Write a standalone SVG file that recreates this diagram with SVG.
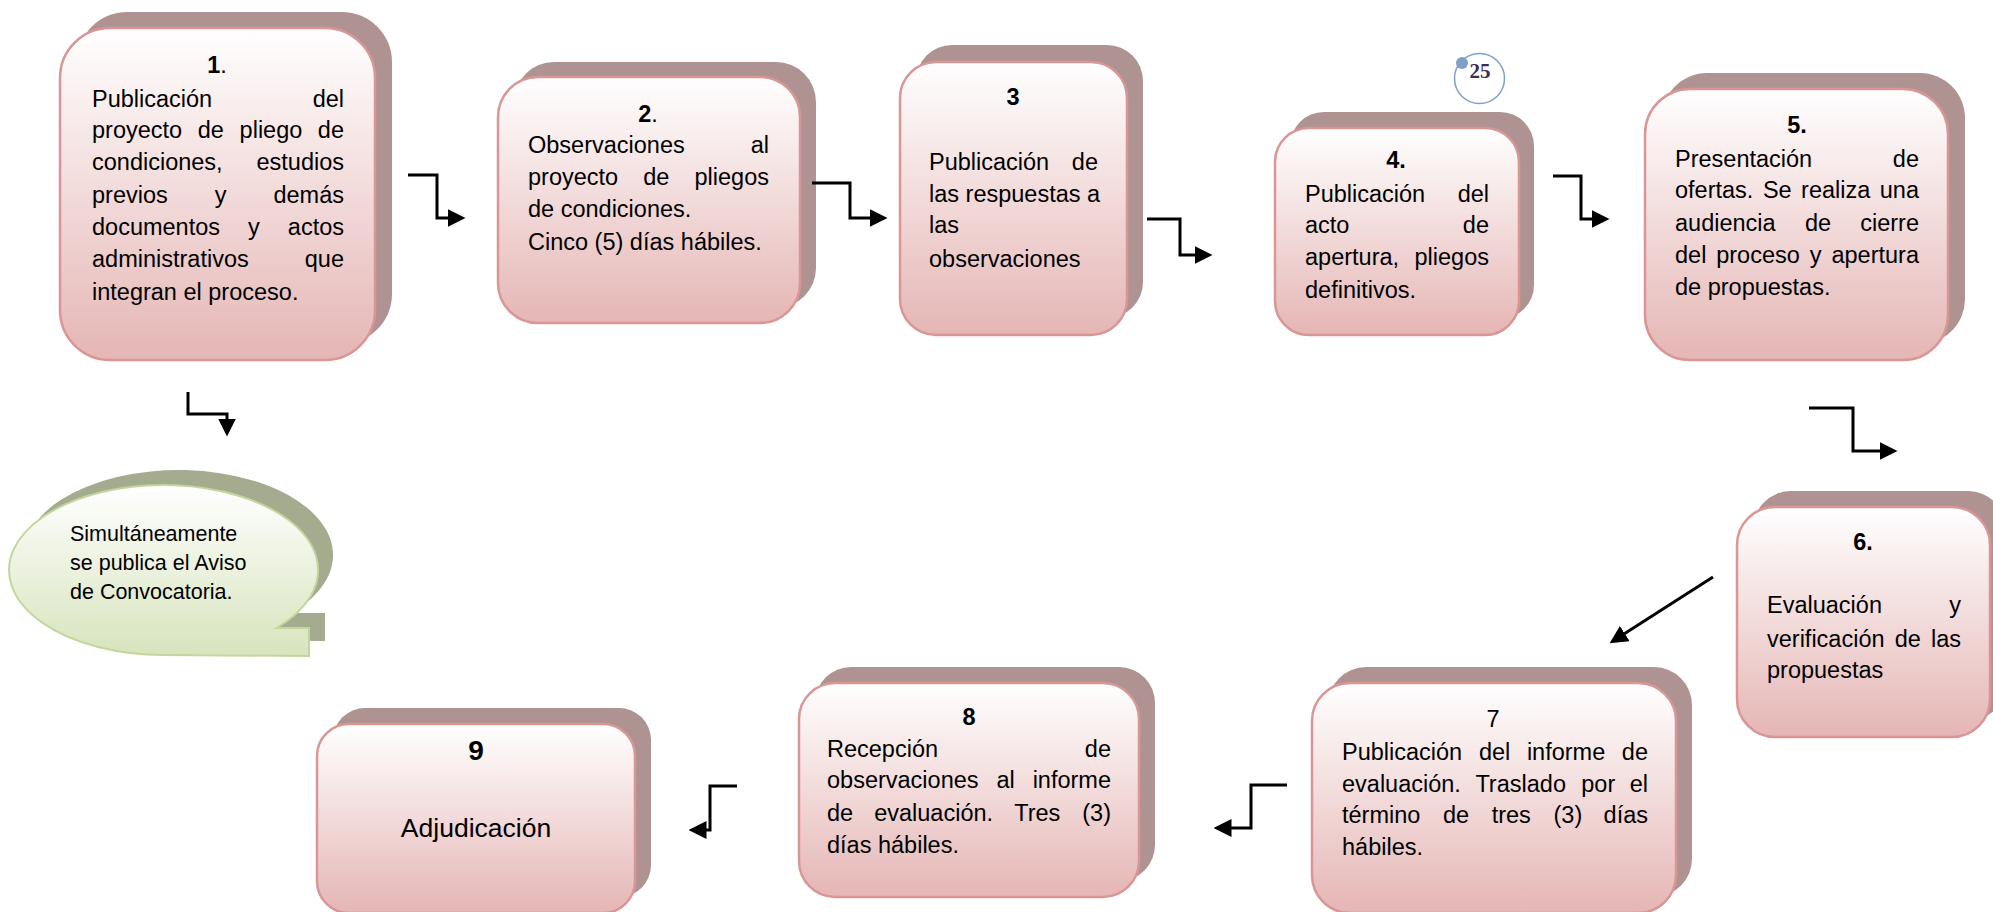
<svg xmlns="http://www.w3.org/2000/svg" width="1993" height="912" viewBox="0 0 1993 912">
<style>
.sh{fill:#af9393}
.fr{fill:url(#gPink);stroke:#d99694;stroke-width:2.5}
.t{font-family:"Liberation Sans",Arial,sans-serif;font-size:23.5px;fill:#000}
.b{font-weight:bold}
.e{text-anchor:end}
.m{text-anchor:middle}
.conn{fill:none;stroke:#000;stroke-width:3}
</style>
<defs>
<linearGradient id="gPink" x1="0" y1="0" x2="0" y2="1">
<stop offset="0" stop-color="#ffffff"/>
<stop offset="1" stop-color="#e5b6b5"/>
</linearGradient>
<linearGradient id="gGreen" x1="0" y1="0" x2="0" y2="1">
<stop offset="0" stop-color="#ffffff"/>
<stop offset="1" stop-color="#d7e4bd"/>
</linearGradient>
<marker id="ah" markerUnits="userSpaceOnUse" markerWidth="18" markerHeight="18" viewBox="0 0 16 16" refX="12" refY="8" orient="auto">
<path d="M0,0 L16,8 L0,16 Z" fill="#000"/>
</marker>
</defs>

<g id="node1">
<rect class="sh" x="77" y="12" width="315" height="332" rx="50"/>
<rect class="fr" x="60" y="28" width="315" height="332" rx="50"/>
<text class="t m" x="217" y="73"><tspan class="b">1</tspan>.</text>
<text class="t"><tspan x="92" y="107">Publicación</tspan><tspan class="e" x="344" y="107">del</tspan></text>
<text class="t"><tspan x="92" y="138">proyecto</tspan><tspan x="197.8" y="138">de</tspan><tspan x="239.6" y="138">pliego</tspan><tspan class="e" x="344" y="138">de</tspan></text>
<text class="t"><tspan x="92" y="170">condiciones,</tspan><tspan class="e" x="344" y="170">estudios</tspan></text>
<text class="t"><tspan x="92" y="203">previos</tspan><tspan x="214.7" y="203">y</tspan><tspan class="e" x="344" y="203">demás</tspan></text>
<text class="t"><tspan x="92" y="235">documentos</tspan><tspan x="248" y="235">y</tspan><tspan class="e" x="344" y="235">actos</tspan></text>
<text class="t"><tspan x="92" y="267">administrativos</tspan><tspan class="e" x="344" y="267">que</tspan></text>
<text class="t" x="92" y="300">integran el proceso.</text>
</g>

<g id="node2">
<rect class="sh" x="514" y="62" width="302" height="246" rx="40"/>
<rect class="fr" x="498" y="77" width="302" height="246" rx="40"/>
<text class="t m" x="648" y="122"><tspan class="b">2</tspan>.</text>
<text class="t"><tspan x="528" y="153">Observaciones</tspan><tspan class="e" x="769" y="153">al</tspan></text>
<text class="t"><tspan x="528" y="185">proyecto</tspan><tspan x="643.3" y="185">de</tspan><tspan class="e" x="769" y="185">pliegos</tspan></text>
<text class="t" x="528" y="217">de condiciones.</text>
<text class="t" x="528" y="250">Cinco (5) días hábiles.</text>
</g>

<g id="node3">
<rect class="sh" x="916" y="45" width="227" height="273" rx="36"/>
<rect class="fr" x="900" y="62" width="227" height="273" rx="36"/>
<text class="t m b" x="1013" y="105">3</text>
<text class="t"><tspan x="929" y="170">Publicación</tspan><tspan class="e" x="1098" y="170">de</tspan></text>
<text class="t" x="929" y="202">las respuestas a</text>
<text class="t" x="929" y="233">las</text>
<text class="t" x="929" y="267">observaciones</text>
</g>

<g id="node4">
<rect class="sh" x="1290" y="112" width="244" height="207" rx="34"/>
<rect class="fr" x="1275" y="128" width="244" height="207" rx="34"/>
<text class="t m b" x="1396" y="168">4.</text>
<text class="t"><tspan x="1305" y="202">Publicación</tspan><tspan class="e" x="1489" y="202">del</tspan></text>
<text class="t"><tspan x="1305" y="233">acto</tspan><tspan class="e" x="1489" y="233">de</tspan></text>
<text class="t"><tspan x="1305" y="265">apertura,</tspan><tspan class="e" x="1489" y="265">pliegos</tspan></text>
<text class="t" x="1305" y="298">definitivos.</text>
</g>

<g id="page-number">
<circle cx="1479.5" cy="78.5" r="25" fill="#fff" stroke="#7ea1c9" stroke-width="1.5"/>
<circle cx="1462" cy="63" r="6" fill="#7f9fc7"/>
<text x="1480" y="78" text-anchor="middle" font-family="'Liberation Serif',serif" font-weight="bold" font-size="21" fill="#3d2b55">25</text>
</g>

<g id="node5">
<rect class="sh" x="1662" y="73" width="303" height="271" rx="45"/>
<rect class="fr" x="1645" y="89" width="303" height="271" rx="45"/>
<text class="t m b" x="1797" y="133">5.</text>
<text class="t"><tspan x="1675" y="167">Presentación</tspan><tspan class="e" x="1919" y="167">de</tspan></text>
<text class="t"><tspan x="1675" y="198">ofertas.</tspan><tspan x="1762.9" y="198">Se</tspan><tspan x="1801.1" y="198">realiza</tspan><tspan class="e" x="1919" y="198">una</tspan></text>
<text class="t"><tspan x="1675" y="231">audiencia</tspan><tspan x="1804.9" y="231">de</tspan><tspan class="e" x="1919" y="231">cierre</tspan></text>
<text class="t"><tspan x="1675" y="263">del</tspan><tspan x="1716.2" y="263">proceso</tspan><tspan x="1809.7" y="263">y</tspan><tspan class="e" x="1919" y="263">apertura</tspan></text>
<text class="t" x="1675" y="295">de propuestas.</text>
</g>

<g id="node6">
<rect class="sh" x="1753" y="491" width="253" height="230" rx="38"/>
<rect class="fr" x="1737" y="507" width="253" height="230" rx="38"/>
<text class="t m b" x="1863" y="550">6.</text>
<text class="t"><tspan x="1767" y="613">Evaluación</tspan><tspan class="e" x="1961" y="613">y</tspan></text>
<text class="t"><tspan x="1767" y="647">verificación</tspan><tspan x="1894.7" y="647">de</tspan><tspan class="e" x="1961" y="647">las</tspan></text>
<text class="t" x="1767" y="678">propuestas</text>
</g>

<g id="node7">
<rect class="sh" x="1328" y="667" width="364" height="230" rx="38"/>
<rect class="fr" x="1312" y="683" width="364" height="230" rx="38"/>
<text class="t m" x="1493" y="727">7</text>
<text class="t"><tspan x="1342" y="760">Publicación</tspan><tspan x="1478.9" y="760">del</tspan><tspan x="1526.9" y="760">informe</tspan><tspan class="e" x="1648" y="760">de</tspan></text>
<text class="t"><tspan x="1342" y="792">evaluación.</tspan><tspan x="1475.4" y="792">Traslado</tspan><tspan x="1581.3" y="792">por</tspan><tspan class="e" x="1648" y="792">el</tspan></text>
<text class="t"><tspan x="1342" y="823">término</tspan><tspan x="1443" y="823">de</tspan><tspan x="1491.7" y="823">tres</tspan><tspan x="1553.5" y="823">(3)</tspan><tspan class="e" x="1648" y="823">días</tspan></text>
<text class="t" x="1342" y="855">hábiles.</text>
</g>

<g id="node8">
<rect class="sh" x="815" y="667" width="340" height="214" rx="36"/>
<rect class="fr" x="799" y="683" width="340" height="214" rx="36"/>
<text class="t m b" x="969" y="725">8</text>
<text class="t"><tspan x="827" y="757">Recepción</tspan><tspan class="e" x="1111" y="757">de</tspan></text>
<text class="t"><tspan x="827" y="788">observaciones</tspan><tspan x="996.5" y="788">al</tspan><tspan class="e" x="1111" y="788">informe</tspan></text>
<text class="t"><tspan x="827" y="821">de</tspan><tspan x="874.2" y="821">evaluación.</tspan><tspan x="1014.2" y="821">Tres</tspan><tspan class="e" x="1111" y="821">(3)</tspan></text>
<text class="t" x="827" y="853">días hábiles.</text>
</g>

<g id="node9">
<rect class="sh" x="333" y="708" width="318" height="189" rx="32"/>
<rect class="fr" x="317" y="724" width="318" height="189" rx="32"/>
<text class="t m b" x="476" y="760" style="font-size:28px">9</text>
<text class="t m" x="476" y="837" style="font-size:26.5px">Adjudicación</text>
</g>

<g id="callout">
<path d="M291.5,613 A154.5 85 0 1 0 178.5,640 L325,641 L325,613 Z" fill="#a4ab8f"/>
<path d="M276.5,628 A154.5 85 0 1 0 163.5,655 L309,656 L309,628 Z" fill="url(#gGreen)" stroke="#c3d69b" stroke-width="2"/>
<text class="t" style="font-size:21.5px" x="70" y="541">Simultáneamente</text>
<text class="t" style="font-size:21.5px" x="70" y="570">se publica el Aviso</text>
<text class="t" style="font-size:21.5px" x="70" y="599">de Convocatoria.</text>
</g>

<g id="connectors">
<path class="conn" d="M408,175 H437 V218 H461" marker-end="url(#ah)"/>
<path class="conn" d="M812,183 H850 V218 H883" marker-end="url(#ah)"/>
<path class="conn" d="M1147,219 H1180 V255 H1208" marker-end="url(#ah)"/>
<path class="conn" d="M1553,176 H1581 V219 H1605" marker-end="url(#ah)"/>
<path class="conn" d="M1809,408 H1853 V451 H1893" marker-end="url(#ah)"/>
<path class="conn" d="M1713,577 L1613.4,640.8" marker-end="url(#ah)"/>
<path class="conn" d="M1287,785 H1251 V828 H1218" marker-end="url(#ah)"/>
<path class="conn" d="M737,786 H710 V830 H693" marker-end="url(#ah)"/>
<path class="conn" d="M188,392 V414 H227 V432" marker-end="url(#ah)"/>
</g>
</svg>
